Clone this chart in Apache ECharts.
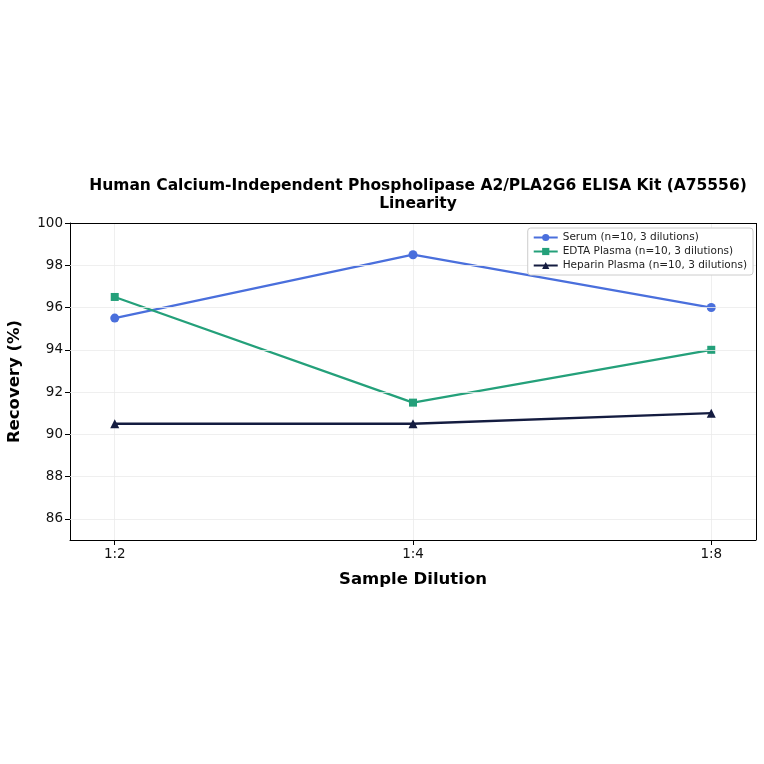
<!DOCTYPE html>
<html><head><meta charset="utf-8">
<script src="https://cdn.jsdelivr.net/npm/echarts@6/dist/echarts.min.js"></script>
<style>html,body{margin:0;padding:0;background:#fff}#c{width:764px;height:764px}</style>
</head><body><div id="c"></div>
<script>
const categories = ['1:2', '1:4', '1:8'];
const serum = [95.5, 98.5, 96.0];
const edta = [96.5, 91.5, 94.0];
const heparin = [90.5, 90.5, 91.0];
const seriesNames = ['Serum (n=10, 3 dilutions)', 'EDTA Plasma (n=10, 3 dilutions)', 'Heparin Plasma (n=10, 3 dilutions)'];
const yTicks = [86, 88, 90, 92, 94, 96, 98, 100];

const font = 'DejaVu Sans';
const chart = echarts.init(document.getElementById('c'), null, {renderer: 'canvas'});
function pts(arr){ return arr.map((v,i)=>[i, v]); }
const colors = ['#4a6fdc', '#24a07a', '#141c40'];
const symbols = ['circle', 'rect', 'triangle'];
const datasets = [serum, edta, heparin];
chart.setOption({
  animation: false,
  title: {
    text: 'Human Calcium-Independent Phospholipase A2/PLA2G6 ELISA Kit (A75556)\nLinearity',
    left: 413, top: 172, textAlign: 'center',
    textStyle: {fontFamily: font, fontWeight: 'bold', fontSize: 15.5, color: '#000', lineHeight: 18}
  },
  legend: {
    orient: 'vertical', right: 11, top: 228, z: 20,
    backgroundColor: '#fff', borderColor: '#cccccc', borderWidth: 1, borderRadius: 3,
    padding: [4, 6, 4, 5], itemGap: 3, itemWidth: 24, itemHeight: 9,
    textStyle: {fontFamily: font, fontSize: 10.5, color: '#222'},
    data: seriesNames
  },
  grid: {left: 70, right: 8, top: 223, bottom: 224, containLabel: false, outerBoundsMode: 'none'},
  xAxis: {
    type: 'value', min: -0.15, max: 2.15,
    name: 'Sample Dilution', nameLocation: 'middle', nameGap: 31,
    nameTextStyle: {fontFamily: font, fontWeight: 'bold', fontSize: 16.5, color: '#000'},
    axisLine: {show: true, onZero: false, lineStyle: {color: '#000', width: 1}},
    axisTick: {show: true, customValues: [0,1,2], length: 5, lineStyle: {color: '#000'}},
    axisLabel: {customValues: [0,1,2], formatter: v => categories[Math.round(v)] || '', fontFamily: font, fontSize: 13.5, color: '#111', margin: 7},
    splitLine: {show: true, lineStyle: {color: '#ebebeb', width: 0.8}},
    minorTick: {show: false}
  },
  yAxis: {
    type: 'value', min: 85, max: 100,
    name: 'Recovery (%)', nameLocation: 'middle', nameGap: 47,
    nameTextStyle: {fontFamily: font, fontWeight: 'bold', fontSize: 16.5, color: '#000'},
    axisLine: {show: true, onZero: false, lineStyle: {color: '#000', width: 1}},
    axisTick: {show: true, customValues: yTicks, length: 5, lineStyle: {color: '#000'}},
    axisLabel: {customValues: yTicks, fontFamily: font, fontSize: 13.5, color: '#111', margin: 7},
    splitLine: {show: false}
  },
  series: datasets.map((d, i) => ({
    name: seriesNames[i], type: 'line', data: pts(d),
    symbol: symbols[i], symbolSize: i === 1 ? 8 : 9,
    itemStyle: {color: colors[i]},
    lineStyle: {color: colors[i], width: 2.3},
    z: 3 + i
  })).concat([{
    type: 'line', data: [], z: 1, markLine: {
      silent: true, symbol: 'none', label: {show: false},
      lineStyle: {color: '#ebebeb', width: 0.8, type: 'solid'},
      data: yTicks.filter(v => v < 100).map(v => ({yAxis: v}))
    }
  }, {
    type: 'line', data: [], z: 1, markLine: {
      silent: true, symbol: 'none', label: {show: false},
      lineStyle: {color: '#000', width: 1, type: 'solid'},
      data: [[{coord: [-0.15, 100]}, {coord: [2.15, 100]}], [{coord: [2.15, 85]}, {coord: [2.15, 100]}]]
    }
  }])
});
</script></body></html>
